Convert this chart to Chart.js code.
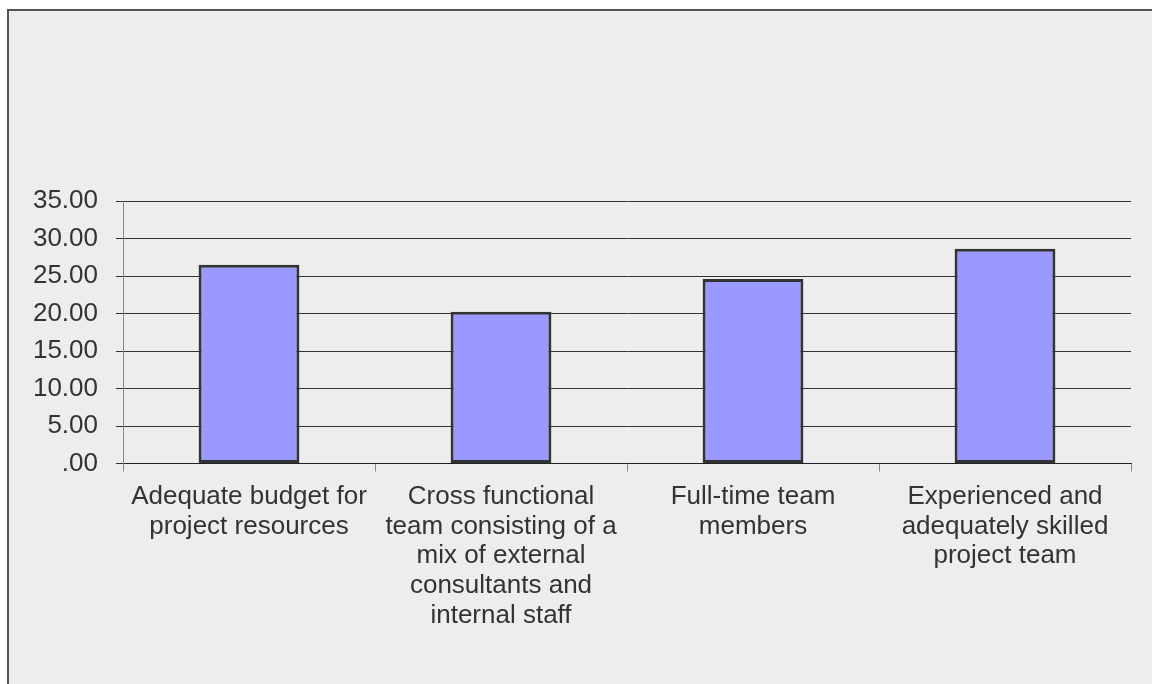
<!DOCTYPE html>
<html>
<head>
<meta charset="utf-8">
<script src="https://cdn.jsdelivr.net/npm/chart.js@4"></script>
<style>
  html, body { margin: 0; padding: 0; background: #fff; }
  body { width: 1152px; height: 684px; position: relative; overflow: hidden; }
  .frame {
    position: absolute; left: 7px; top: 9px; width: 1160px; height: 690px;
    background: #ededed; border-left: 2px solid #555; border-top: 2px solid #555;
  }
  #barChart { position: absolute; left: 0; top: 0; }
</style>
</head>
<body>
<div class="frame"></div>
<canvas id="barChart" width="1152" height="684"></canvas>
<script>
var categories = [
  ["Adequate budget for", "project resources"],
  ["Cross functional", "team consisting of a", "mix of external", "consultants and", "internal staff"],
  ["Full-time team", "members"],
  ["Experienced and", "adequately skilled", "project team"]
];
var scores = [26.5, 20.25, 24.6, 28.65];
var yMin = 0, yMax = 35, yStep = 5;

var ctx = document.getElementById("barChart");
var barChart = new Chart(ctx, {
  type: 'bar',
  data: {
    labels: categories,
    datasets: [{
      data: scores,
      backgroundColor: '#9999ff',
      borderColor: '#333333',
      borderWidth: 3,
      borderSkipped: false,
      categoryPercentage: 1,
      barPercentage: 0.4
    }]
  },
  options: {
    responsive: false,
    animation: false,
    layout: { padding: { top: 201, right: 21, bottom: 0, left: 0 } },
    plugins: {
      legend: { display: false },
      tooltip: { enabled: false }
    },
    scales: {
      x: {
        grid: { drawOnChartArea: false, drawTicks: true, tickLength: 8, color: '#888', offset: true },
        border: { color: '#222', width: 1 },
        ticks: {
          color: '#333',
          padding: 10,
          maxRotation: 0,
          autoSkip: false,
          font: { family: 'Liberation Sans, Arial, sans-serif', size: 26, lineHeight: 1.15 }
        },
        afterFit: function (scale) { scale.height = 220.5; }
      },
      y: {
        min: yMin,
        max: yMax,
        grid: { color: '#333', lineWidth: 1, tickLength: 7 },
        border: { color: '#888', width: 1 },
        ticks: {
          stepSize: yStep,
          color: '#333',
          padding: 18,
          font: { family: 'Liberation Sans, Arial, sans-serif', size: 26 },
          callback: function (v) {
            return v === 0 ? '.00' : v.toFixed(2);
          }
        },
        afterFit: function (scale) { scale.width = 123; }
      }
    }
  }
});
</script>
</body>
</html>
